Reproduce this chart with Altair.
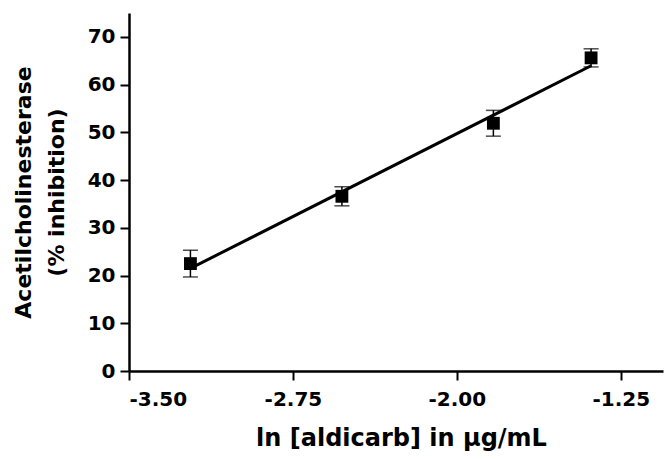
import altair as alt
import pandas as pd

# Data
ln_conc = [-3.219, -2.526, -1.833, -1.386]
inhibition = [22.5, 36.6, 51.9, 65.6]
err = [2.8, 2.0, 2.7, 1.9]

x_ticks = [-3.5, -2.75, -2.0, -1.25]
y_ticks = [0, 10, 20, 30, 40, 50, 60, 70]

df = pd.DataFrame({
    "x": ln_conc,
    "y": inhibition,
    "lo": [v - e for v, e in zip(inhibition, err)],
    "hi": [v + e for v, e in zip(inhibition, err)],
})

FONT = "DejaVu Sans"

xscale = alt.Scale(domain=[-3.5, -1.057], nice=False, zero=False)
yscale = alt.Scale(domain=[0, 75], nice=False)

xaxis = alt.Axis(
    values=x_ticks,
    labelExpr="datum.value < 0 ? '-' + format(-datum.value, '.2f') : format(datum.value, '.2f')",
    title="ln [aldicarb] in μg/mL",
    titleX=272, titleY=74, titleBaseline="alphabetic", titleAlign="center",
    titleFontSize=24,
    labelPadding=9,
    grid=False,
)
yaxis = alt.Axis(
    values=y_ticks,
    title=["Acetilcholinesterase", "(% inhibition)"],
    titleX=-99, titleY=179, titleAngle=-90, titleBaseline="alphabetic",
    titleAlign="center", titleLineHeight=33, titleFontSize=22,
    labelPadding=5,
    grid=False,
)

base = alt.Chart(df)

bars = base.mark_rule(color="black", strokeWidth=1.5).encode(
    x=alt.X("x:Q", scale=xscale, axis=xaxis),
    y=alt.Y("lo:Q", scale=yscale, axis=yaxis),
    y2="hi:Q",
)
cap_hi = base.mark_tick(color="black", orient="horizontal", size=15, thickness=1.5).encode(
    x=alt.X("x:Q", scale=xscale), y=alt.Y("hi:Q", scale=yscale)
)
cap_lo = base.mark_tick(color="black", orient="horizontal", size=15, thickness=1.5).encode(
    x=alt.X("x:Q", scale=xscale), y=alt.Y("lo:Q", scale=yscale)
)
line = base.transform_regression("x", "y").mark_line(color="black", strokeWidth=3).encode(
    x=alt.X("x:Q", scale=xscale), y=alt.Y("y:Q", scale=yscale)
)
pts = base.mark_square(color="black", filled=True, size=165, opacity=1).encode(
    x=alt.X("x:Q", scale=xscale), y=alt.Y("y:Q", scale=yscale)
)

chart = alt.layer(bars, cap_hi, cap_lo, line, pts).properties(
    width=534, height=358,
    autosize=alt.AutoSizeParams(type="none"),
    padding={"left": 121, "top": 5, "right": 1, "bottom": 80},
).configure_view(stroke=None).configure_axis(
    domainColor="black", domainWidth=2.5,
    tickColor="black", tickWidth=2, tickSize=9,
    labelColor="black", labelFont=FONT, labelFontWeight="bold", labelFontSize=20,
    titleColor="black", titleFont=FONT, titleFontWeight="bold",
)

chart.save("out.html", embed_options={"renderer": "svg", "actions": False})
